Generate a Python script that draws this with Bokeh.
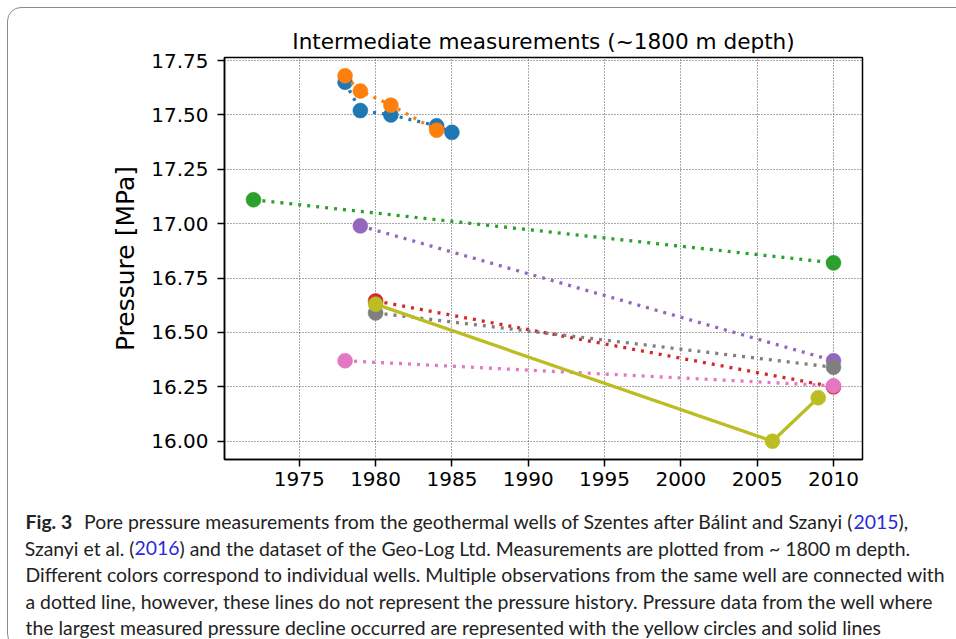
from bokeh.plotting import figure
from bokeh.models import Range1d, FixedTicker
from bokeh.embed import file_html
from bokeh.resources import INLINE
from bokeh.core.properties import value

# ---------------- data ----------------
blue_years = [1978, 1979, 1981, 1984, 1985]
blue_mpa = [17.65, 17.52, 17.50, 17.45, 17.42]
orange_years = [1978, 1979, 1981, 1984]
orange_mpa = [17.68, 17.61, 17.545, 17.43]
green_years = [1972, 2010]
green_mpa = [17.11, 16.82]
red_years = [1980, 2010]
red_mpa = [16.645, 16.25]
purple_years = [1979, 2010]
purple_mpa = [16.99, 16.37]
pink_years = [1978, 2010]
pink_mpa = [16.37, 16.255]
gray_years = [1980, 2010]
gray_mpa = [16.59, 16.34]
olive_years = [1980, 2006, 2009]
olive_mpa = [16.63, 16.00, 16.20]

x_ticks = [1975, 1980, 1985, 1990, 1995, 2000, 2005, 2010]
y_ticks = [16.00, 16.25, 16.50, 16.75, 17.00, 17.25, 17.50, 17.75]
y_tick_labels = ["16.00", "16.25", "16.50", "16.75", "17.00", "17.25", "17.50", "17.75"]

title_text = "Intermediate measurements (~1800 m depth)"
ylabel_text = "Pressure [MPa]"

series = [
    (blue_years, blue_mpa, "#1f77b4", "dot"),
    (orange_years, orange_mpa, "#ff7f0e", "dot"),
    (green_years, green_mpa, "#2ca02c", "dot"),
    (red_years, red_mpa, "#d62728", "dot"),
    (purple_years, purple_mpa, "#9467bd", "dot"),
    (pink_years, pink_mpa, "#e377c2", "dot"),
    (gray_years, gray_mpa, "#7f7f7f", "dot"),
    (olive_years, olive_mpa, "#bcbd22", "solid"),
]

fig_tag = "Fig. 3"
cap1_pre = "Pore pressure measurements from the geothermal wells of Szentes after Bálint and Szanyi ("
cap1_link = "2015"
cap1_post = "),"
cap2_pre = "Szanyi et al. ("
cap2_link = "2016"
cap2_post = ") and the dataset of the Geo-Log Ltd. Measurements are plotted from ~ 1800 m depth."
cap_rest = [
    "Different colors correspond to individual wells. Multiple observations from the same well are connected with",
    "a dotted line, however, these lines do not represent the pressure history. Pressure data from the well where",
    "the largest measured pressure decline occurred are represented with the yellow circles and solid lines",
]

# ---------------- layout ----------------
W, H = 956, 639
H1 = 500
FL, FR, FT, FB = 224, 862, 57, 459
BOX_COLOR = "#8a8a8a"


def box_css(top_px, bottom_px):
    return (":host { overflow: hidden; }\n"
            ":host::after { content: ''; position: absolute; left: 7px; right: -40px; "
            f"top: {top_px}px; bottom: {bottom_px}px; border: 1px solid {BOX_COLOR}; "
            "border-radius: 14px; pointer-events: none; z-index: 100; }")


p = figure(width=W, height=H1, output_backend="svg", toolbar_location=None,
           x_range=Range1d(1970.1, 2011.9), y_range=Range1d(15.916, 17.764),
           min_border_left=FL, min_border_right=W - FR,
           min_border_top=FT, min_border_bottom=H1 - FB,
           background_fill_color="white", border_fill_color="white",
           stylesheets=[box_css(7, -40)])

p.title.text = title_text
p.title.text_font = "DejaVu Sans"
p.title.text_font_size = "21.6px"
p.title.text_font_style = "normal"
p.title.text_color = "black"
p.title.align = "center"
p.title.standoff = 8

p.outline_line_color = "black"
p.outline_line_width = 1.5

p.xaxis.ticker = FixedTicker(ticks=x_ticks)
p.yaxis.ticker = FixedTicker(ticks=y_ticks)
p.yaxis.major_label_overrides = {t: l for t, l in zip(y_ticks, y_tick_labels)}

for ax in (p.xaxis[0], p.yaxis[0]):
    ax.axis_line_color = "black"
    ax.axis_line_width = 1.5
    ax.major_tick_line_color = "black"
    ax.major_tick_line_width = 1.5
    ax.major_tick_out = 7
    ax.major_tick_in = 0
    ax.minor_tick_line_color = None
    ax.major_label_text_font = "DejaVu Sans"
    ax.major_label_text_font_size = "20px"
    ax.major_label_text_color = "black"

p.yaxis.major_label_standoff = 9
p.xaxis.major_label_standoff = 5
p.yaxis.axis_label = ylabel_text
p.yaxis.axis_label_text_font = "DejaVu Sans"
p.yaxis.axis_label_text_font_size = "25px"
p.yaxis.axis_label_text_font_style = "normal"
p.yaxis.axis_label_text_color = "black"
p.yaxis.axis_label_standoff = 8

p.grid.grid_line_color = "#555555"
p.grid.grid_line_dash = "1 2"
p.grid.grid_line_width = 1

for xs, ys, col, style in series:
    p.line(xs, ys, line_color=col, line_width=3.3,
           line_dash=("3 6" if style == "dot" else "solid"))
    p.scatter(xs, ys, marker="circle", size=15, fill_color=col, line_color=col, line_width=0.5)

# ---------------- caption figure ----------------
H2 = H - H1
p2 = figure(width=W, height=H2, output_backend="svg", toolbar_location=None,
            x_range=Range1d(0, W), y_range=Range1d(H2, 0),
            min_border=0, min_border_left=0, min_border_right=0,
            min_border_top=0, min_border_bottom=0,
            background_fill_color="white", border_fill_color="white",
            stylesheets=[box_css(-40, -9)])
p2.axis.visible = False
p2.grid.visible = False
p2.outline_line_color = None

CAP_FONT = "Lato"
CAP_SIZE = 19.4
TXT = "#222222"
LINK = "#2a2ad8"
X0 = 25
baselines = [521, 547.5, 574, 600.5, 627]
XB1, XB2 = 853, 134
link_w = 0.58 * CAP_SIZE * 4


def cap(x, y, text, color=TXT, style="normal", align="left"):
    p2.text(x=[x], y=[y - H1], text=[text], text_font=value(CAP_FONT),
            text_font_size=value(f"{CAP_SIZE}px"), text_font_style=style,
            text_color=color, text_align=align, text_baseline="alphabetic")


cap(X0, baselines[0], fig_tag, style="bold")
cap(XB1, baselines[0], cap1_pre, align="right")
cap(XB1, baselines[0], cap1_link, color=LINK)
cap(XB1 + link_w, baselines[0], cap1_post)
cap(XB2, baselines[1], cap2_pre, align="right")
cap(XB2, baselines[1], cap2_link, color=LINK)
cap(XB2 + link_w, baselines[1], cap2_post)
for line, b in zip(cap_rest, baselines[2:]):
    cap(X0, b, line)

open("out.html", "w").write(file_html([p, p2], INLINE))
